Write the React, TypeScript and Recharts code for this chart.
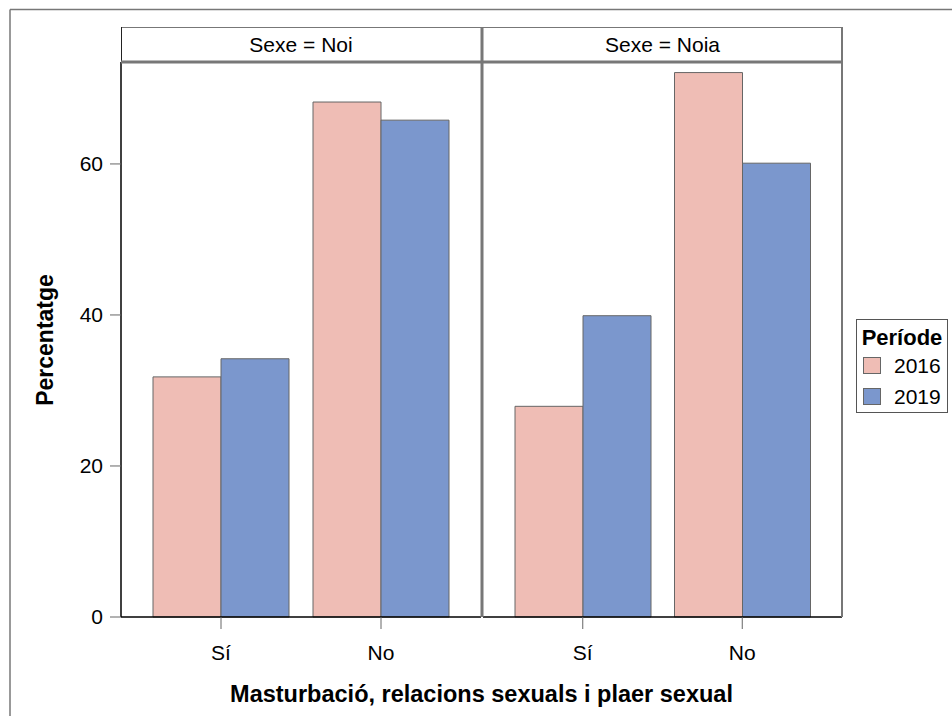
import React from "react";
import { Bar, BarChart, Legend, XAxis, YAxis } from "recharts";

const categories = ["Sí", "No"];
const periods = ["2016", "2019"];
const noi2016 = [31.8, 68.2];
const noi2019 = [34.2, 65.8];
const noia2016 = [27.9, 72.1];
const noia2019 = [39.9, 60.1];
const yTicks = [0, 20, 40, 60];
const panels = ["Sexe = Noi", "Sexe = Noia"];

const colors = ["#efbdb5", "#7b97cd"];
const font = "'Liberation Sans', Arial, sans-serif";

const noiData = categories.map((c, i) => ({ cat: c, p2016: noi2016[i], p2019: noi2019[i] }));
const noiaData = categories.map((c, i) => ({ cat: c, p2016: noia2016[i], p2019: noia2019[i] }));

const tickStyle = { fill: "#000", fontSize: 21, fontFamily: font };

function LegendBox() {
  return (
    <svg width={92} height={94} style={{ display: "block" }}>
      <rect x={0.5} y={0.5} width={91} height={93} fill="#fff" stroke="#555" />
      <text x={46} y={26} textAnchor="middle" fontSize={22} fontWeight="bold" fontFamily={font}>
        Període
      </text>
      {periods.map((p, i) => (
        <g key={p}>
          <rect x={7.5} y={38.5 + i * 31} width={17} height={16} fill={colors[i]} stroke="#666" />
          <text x={38} y={54 + i * 31} fontSize={21} fontFamily={font}>
            {p}
          </text>
        </g>
      ))}
    </svg>
  );
}

function Panel({ data, width, right, showY, legend }: any) {
  return (
    <BarChart
      width={width}
      height={716}
      data={data}
      margin={{ top: 62, right, bottom: 0, left: 0 }}
      barGap={0}
      barSize={68}
    >
      <XAxis
        dataKey="cat"
        height={99}
        padding={{ left: 20, right: 20 }}
        axisLine={{ stroke: "#000", strokeWidth: 1.5 }}
        tickLine={{ stroke: "#666" }}
        tickSize={12}
        tickMargin={16}
        tick={tickStyle}
      />
      <YAxis
        hide={!showY}
        width={121}
        domain={[0, 73.5]}
        ticks={yTicks}
        axisLine={{ stroke: "#000", strokeWidth: 1.5 }}
        tickLine={{ stroke: "#666" }}
        tickSize={11}
        tickMargin={7}
        tick={tickStyle}
      />
      <Bar dataKey="p2016" fill={colors[0]} stroke="#666" isAnimationActive={false} />
      <Bar dataKey="p2019" fill={colors[1]} stroke="#666" isAnimationActive={false} />
      {legend && (
        <Legend
          layout="horizontal"
          verticalAlign="middle"
          align="right"
          content={() => <LegendBox />}
          wrapperStyle={{ left: 373, top: 319, width: 92, height: 94 }}
        />
      )}
    </BarChart>
  );
}

export default function App() {
  return (
    <div style={{ position: "absolute", left: 0, top: 0, width: 952, height: 716, background: "#fff", overflow: "hidden" }}>
      <div style={{ position: "absolute", left: 0, top: 0 }}>
        <Panel data={noiData} width={482} right={1} showY />
      </div>
      <div style={{ position: "absolute", left: 483, top: 0 }}>
        {/* the legend's 92px width is added to the right offset by recharts */}
        <Panel data={noiaData} width={469} right={18} showY={false} legend />
      </div>
      <svg width={952} height={716} style={{ position: "absolute", left: 0, top: 0, pointerEvents: "none" }}>
        {/* outer frame */}
        <line x1={10} y1={9.5} x2={952} y2={9.5} stroke="#777" strokeWidth={1.5} />
        <line x1={10} y1={9.5} x2={10} y2={716} stroke="#777" strokeWidth={1.5} />
        {/* strips */}
        <line x1={121} y1={27.5} x2={842} y2={27.5} stroke="#777" />
        <line x1={121.5} y1={27} x2={121.5} y2={62} stroke="#222" />
        {panels.map((p, i) => (
          <text
            key={p}
            x={i === 0 ? 301 : 662.5}
            y={52}
            textAnchor="middle"
            fontSize={21}
            fontFamily={font}
          >
            {p}
          </text>
        ))}
        {/* panel borders */}
        <line x1={121} y1={62} x2={843} y2={62} stroke="#777" strokeWidth={3} />
        <line x1={482} y1={27} x2={482} y2={617} stroke="#777" strokeWidth={3} />
        <line x1={842} y1={27} x2={842} y2={617} stroke="#777" strokeWidth={2} />
        {/* axis titles */}
        <text
          transform="translate(53,340) rotate(-90)"
          textAnchor="middle"
          fontSize={23}
          fontWeight="bold"
          fontFamily={font}
        >
          Percentatge
        </text>
        <text x={481.5} y={702} textAnchor="middle" fontSize={23.5} fontWeight="bold" fontFamily={font}>
          Masturbació, relacions sexuals i plaer sexual
        </text>
      </svg>
    </div>
  );
}
